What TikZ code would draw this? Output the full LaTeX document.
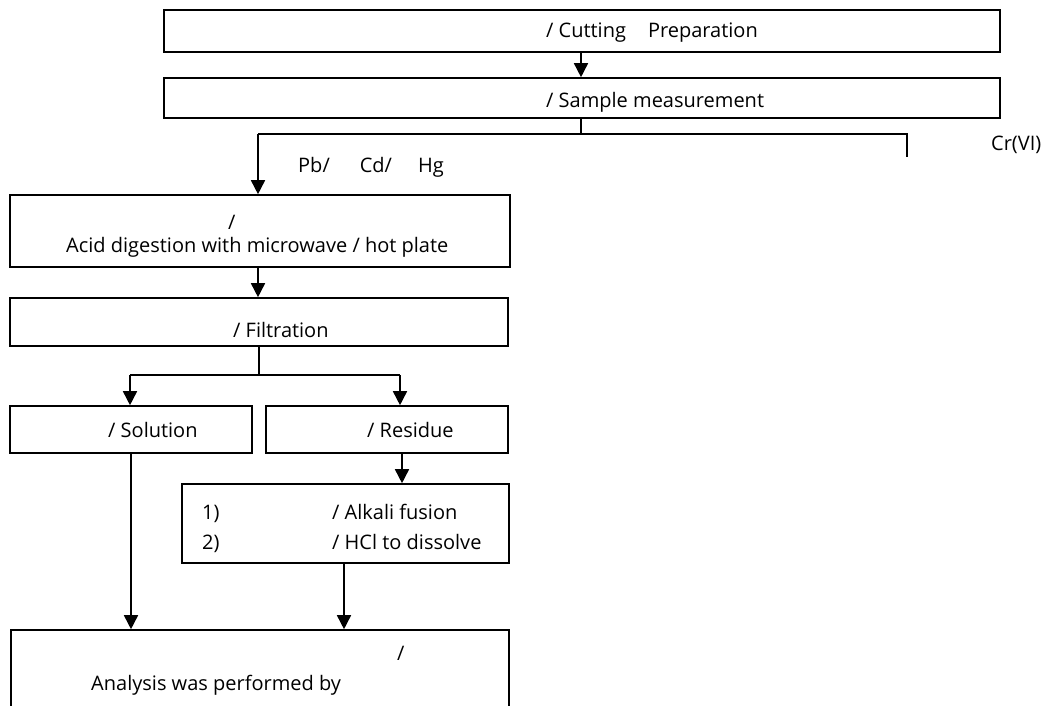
\documentclass[tikz,border=0pt]{standalone}
\usepackage{fontspec}
\setmainfont{Open Sans}
\usetikzlibrary{arrows.meta}
\begin{document}
\begin{tikzpicture}[x=1pt,y=-1pt,
  box/.style={draw, line width=1.6pt, inner sep=0pt, rectangle},
  lbl/.style={anchor=base west, inner sep=0pt, font=\fontsize{20}{24}\selectfont},
  conn/.style={line width=1.6pt},
  arr/.style={conn, -{Triangle[width=14pt,length=14pt]}}]
\useasboundingbox (0,0) rectangle (1051,706);
% boxes
\node[box, minimum width=836pt, minimum height=42pt] (b1) at (582,31) {};
\node[box, minimum width=836pt, minimum height=40pt] (b2) at (582,98) {};
\node[box, minimum width=500pt, minimum height=72pt] (b3) at (260,231) {};
\node[box, minimum width=498pt, minimum height=48pt] (b4) at (259,322) {};
\node[box, minimum width=242pt, minimum height=47pt] (b5) at (131,429.5) {};
\node[box, minimum width=242pt, minimum height=47pt] (b6) at (387,429.5) {};
\node[box, minimum width=327pt, minimum height=79pt] (b7) at (345.5,523.5) {};
\node[box, minimum width=498pt, minimum height=100pt] (b8) at (260,680) {};
% texts
\node[lbl] (t1) at (546,38) {/ Cutting\hspace{22pt}Preparation};
\node[lbl] (t2) at (546,107) {/ Sample measurement};
\node[lbl] (t3) at (991,150) {Cr(VI)};
\node[lbl] (t4) at (298,172) {Pb/\hspace{30pt}Cd/\hspace{26pt}Hg};
\node[lbl] (t5) at (228,229) {/};
\node[lbl] (t6) at (66,252) {Acid digestion with microwave / hot plate};
\node[lbl] (t7) at (233,337) {/ Filtration};
\node[lbl] (t8) at (108,437) {/ Solution};
\node[lbl] (t9) at (367,437) {/ Residue};
\node[lbl] (t10) at (202,519) {1)};
\node[lbl] (t11) at (332,519) {/ Alkali fusion};
\node[lbl] (t12) at (202,549) {2)};
\node[lbl] (t13) at (332,549) {/ HCl to dissolve};
\node[lbl] (t14) at (397,660) {/};
\node[lbl] (t15) at (91,690) {Analysis was performed by};
% connectors
\coordinate (j1) at (581,134);
\coordinate (jl) at (258,134);
\coordinate (jr) at (907,134);
\coordinate (jre) at (907,157);
\coordinate (k1) at (259,375);
\coordinate (kl) at (130,375);
\coordinate (kr) at (400,375);
\draw[arr] (b1.south -| j1) -- (b2.north -| j1);
\draw[conn] (b2.south -| j1) -- (j1);
\draw[conn] (jl) -- (jr) -- (jre);
\draw[arr] (jl) -- (b3.north -| jl);
\draw[arr] (b3.south -| jl) -- (b4.north -| jl);
\draw[conn] (b4.south -| k1) -- (k1);
\draw[conn] (kl) -- (kr);
\draw[arr] (kl) -- (b5.north -| kl);
\draw[arr] (kr) -- (b6.north -| kr);
\coordinate (r1) at (402,0);
\draw[arr] (b6.south -| r1) -- (b7.north -| r1);
\coordinate (r2) at (344,0);
\draw[arr] (b7.south -| r2) -- (b8.north -| r2);
\draw[arr] (b5.south) -- (b8.north -| b5.south);
\end{tikzpicture}
\end{document}
